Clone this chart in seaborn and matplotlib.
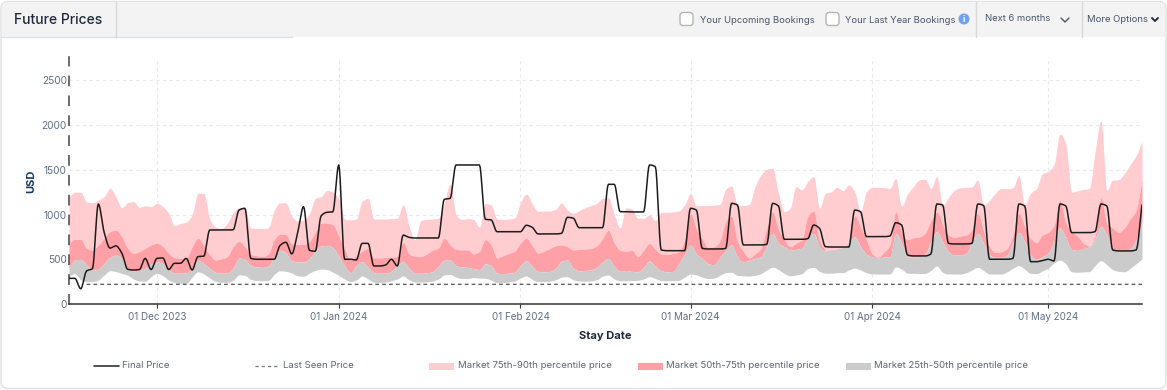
import numpy as np
import pandas as pd
import seaborn as sns
import matplotlib.dates as mdates
from matplotlib import pyplot as plt
from matplotlib.patches import FancyBboxPatch, Rectangle, Circle

# one value per stay date
start_date = "2023-11-16"
end_date = "2024-05-17"

final_price = [
    287, 287, 170, 370, 395, 1118, 800, 625, 650, 570, 388, 380, 385, 510, 385, 510, 515, 385, 455, 455,
    510, 380, 530, 535, 827, 827, 827, 827, 830, 1050, 1070, 510, 500, 500, 500, 500, 655, 690, 560, 800,
    1088, 600, 590, 985, 1025, 1030, 1554, 500, 500,
    492, 678, 678, 425, 425, 436, 500, 425, 770, 745, 738, 738, 738, 738, 738, 1170, 1180, 1554, 1554, 1554,
    1554, 1554, 947, 940, 808, 808, 808, 808, 808, 880, 857, 783, 783, 783, 783, 790, 969, 960, 853, 853,
    853, 853, 853, 1338, 1338, 1032, 1032,
    1029, 1029, 1029, 1554, 1535, 604, 596, 596, 596, 596, 1070, 1050, 622, 615, 615, 615, 622, 1125, 1107, 660,
    660, 660, 660, 667, 1125, 1095, 723, 723, 723, 723, 730, 883, 846, 641, 637, 637, 637, 637, 1050, 1032,
    753, 753,
    753, 753, 760, 909, 883, 548, 537, 537, 537, 559, 1118, 1107, 678, 671, 671, 671, 678, 1118, 1100, 500,
    500, 500, 500, 510, 1118, 1096, 473, 473, 485, 500, 481, 1118, 1096, 798, 798, 798, 798, 809, 1118, 1096,
    604, 593, 593, 593, 604, 1107,
]
p25_price = [
    310, 340, 270, 250, 250, 268, 325, 372, 362, 343, 322, 280, 257, 255, 305, 343, 315, 268, 240, 232,
    232, 300, 360, 335, 290, 255, 242, 242, 265, 325, 320, 275, 262, 260, 265, 330, 372, 365, 345, 315,
    310, 345, 375, 390, 385, 355, 320, 280, 250,
    270, 313, 280, 245, 240, 245, 260, 280, 313, 270, 245, 245, 248, 255, 280, 325, 330, 300, 285, 285,
    295, 290, 287, 265, 238, 240, 245, 255, 290, 313, 275, 250, 250, 255, 270, 300, 305, 270, 258, 255,
    258, 270, 310, 324, 280, 260, 260,
    262, 265, 280, 305, 285, 262, 260, 262, 265, 300, 335, 325, 300, 285, 290, 320, 350, 355, 320, 315,
    312, 320, 340, 380, 410, 385, 340, 315, 325, 340, 395, 410, 365, 345, 345, 350, 350, 380, 400, 380,
    350, 335, 335, 335, 335,
    415, 390, 345, 343, 340, 343, 375, 425, 354, 335, 335, 335, 350, 380, 410, 373, 335, 335, 335, 360,
    400, 429, 388, 343, 340, 370, 400, 460, 490, 450, 360, 355, 358, 362, 430, 485, 440, 385, 365, 360,
    400, 450, 505,
]
p50_price = [
    400, 490, 500, 436, 380, 390, 455, 520, 548, 510, 400, 373, 378, 400, 445, 473, 450, 385, 345, 350,
    350, 400, 490, 450, 400, 355, 345, 350, 400, 515, 500, 430, 415, 410, 425, 530, 600, 570, 485, 470,
    470, 510, 590, 650, 655, 630, 540, 430, 350,
    435, 473, 417, 350, 345, 345, 370, 430, 473, 400, 345, 345, 350, 360, 420, 490, 490, 430, 415, 410,
    395, 385, 450, 430, 345, 340, 345, 355, 430, 485, 420, 365, 360, 365, 400, 480, 490, 400, 370, 375,
    380, 410, 470, 510, 420, 365, 375,
    365, 360, 410, 480, 420, 373, 360, 365, 450, 560, 660, 560, 510, 450, 440, 520, 600, 660, 530, 470,
    490, 510, 530, 660, 790, 680, 640, 605, 610, 625, 740, 790, 640, 590, 600, 610, 630, 680, 753, 640,
    560, 525, 520, 525, 530,
    785, 680, 530, 525, 530, 560, 700, 809, 697, 585, 548, 548, 566, 697, 790, 678, 548, 522, 522, 548,
    697, 801, 697, 548, 500, 530, 570, 700, 855, 740, 610, 600, 620, 640, 730, 870, 770, 610, 600, 600,
    620, 720, 920,
]
p75_price = [
    678, 723, 723, 622, 604, 660, 734, 809, 827, 753, 622, 566, 585, 622, 660, 678, 641, 566, 520, 512,
    510, 640, 735, 650, 550, 492, 505, 530, 640, 700, 640, 555, 540, 530, 560, 720, 780, 775, 670, 665,
    665, 700, 800, 905, 905, 885, 760, 610, 490,
    540, 590, 620, 515, 515, 520, 525, 530, 690, 560, 535, 530, 560, 600, 625, 735, 660, 610, 605, 605,
    560, 590, 720, 660, 515, 540, 565, 590, 680, 735, 650, 570, 590, 620, 650, 660, 640, 605, 610, 615,
    620, 650, 730, 825, 680, 600, 590,
    600, 530, 600, 678, 610, 560, 555, 565, 585, 720, 1010, 840, 730, 630, 640, 700, 920, 980, 700, 590,
    515, 560, 620, 850, 1030, 830, 720, 640, 680, 715, 980, 1040, 710, 600, 525, 530, 590, 680, 990, 860,
    720, 560, 525, 580, 660,
    1032, 800, 720, 740, 750, 790, 930, 1032, 883, 771, 745, 760, 771, 827, 1014, 809, 641, 574, 585, 622,
    771, 1014, 865, 734, 686, 770, 800, 880, 1160, 900, 810, 760, 680, 650, 760, 1190, 900, 850, 800, 850,
    950, 1050, 1390,
]
p90_price = [
    1200, 1250, 1250, 1140, 1133, 1163, 1200, 1293, 1200, 1077, 1133, 1144, 1081, 1096, 1088, 1126, 1088, 1014, 875, 900,
    915, 1000, 1240, 1235, 950, 860, 845, 900, 1020, 1075, 1070, 850, 845, 845, 850, 1050, 1130, 1130, 980, 930,
    940, 1010, 1180, 1200, 1270, 1250, 1180, 950, 940,
    950, 1150, 1180, 950, 950, 950, 955, 960, 1110, 870, 720, 935, 945, 950, 960, 1130, 1340, 1000, 945, 955,
    945, 860, 1125, 1105, 950, 945, 950, 960, 1130, 1230, 1120, 1035, 1040, 1040, 1060, 1130, 1050, 1015, 1045, 1075,
    1100, 1125, 1180, 1190, 1000, 850, 1075,
    1060, 958, 958, 995, 932, 1025, 1025, 1030, 1040, 1107, 1237, 1096, 1100, 1100, 1107, 1114, 1282, 1319, 1107, 1100,
    1114, 1312, 1442, 1506, 1517, 1237, 1032, 1070, 1312, 1275, 1368, 1424, 1070, 1237, 1256, 1304, 1267, 1330, 1256, 1032,
    1256, 1304, 1304, 1300, 1293,
    1405, 1090, 1230, 1310, 1385, 1395, 1290, 1425, 1107, 1190, 1270, 1300, 1304, 1310, 1386, 1107, 1160, 1240, 1293, 1290,
    1300, 1435, 1110, 1240, 1290, 1455, 1480, 1560, 1900, 1790, 1250, 1265, 1280, 1290, 1700, 2050, 1270, 1385, 1390, 1460,
    1560, 1660, 1820,
]
last_seen_price = 220
last_seen_from = "2023-11-19"
y_ticks = [0, 500, 1000, 1500, 2000, 2500]

legend_labels = ["Final Price", "Last Seen Price", "Market 75th-90th percentile price",
    "Market 50th-75th percentile price", "Market 25th-50th percentile price"]

pink = '#ffccd0'
red = '#ff9fa6'
grey = '#cbcbcb'
label_col = '#5f6f84'
W, H = 1167, 390


# monotone cubic drawing curve through the daily values, like the original chart's line mode
def curve(values, steps=8):
    y = np.asarray(values, dtype=float)
    s = np.diff(y)
    m = np.zeros_like(y)
    m[0], m[-1] = s[0], s[-1]
    for i in range(1, len(y) - 1):
        if s[i - 1] * s[i] > 0:
            m[i] = 2 * s[i - 1] * s[i] / (s[i - 1] + s[i])
    t = np.arange((len(y) - 1) * steps + 1) / steps
    i = np.minimum(t.astype(int), len(y) - 2)
    u = t - i
    out = (2 * u**3 - 3 * u**2 + 1) * y[i] + (u**3 - 2 * u**2 + u) * m[i] \
        + (-2 * u**3 + 3 * u**2) * y[i + 1] + (u**3 - u**2) * m[i + 1]
    return t, out


sns.set_style("white")
plt.rcParams['font.family'] = ['Inter', 'DejaVu Sans']

dates = pd.date_range(start_date, end_date, freq="D")
t, final_curve = curve(final_price)
when = dates[0] + pd.to_timedelta(t, unit="D")
df = pd.DataFrame({"date": when, "final": final_curve, "p25": curve(p25_price)[1],
    "p50": curve(p50_price)[1], "p75": curve(p75_price)[1], "p90": curve(p90_price)[1]})
seen = df[df["date"] >= last_seen_from].assign(seen=last_seen_price)

fig = plt.figure(figsize=(W / 100, H / 100), dpi=100, facecolor='white')

# page furniture, in pixel coordinates
bg = fig.add_axes([0, 0, 1, 1], zorder=0)
bg.set_xlim(0, W)
bg.set_ylim(H, 0)
bg.axis("off")
bg.add_patch(FancyBboxPatch((1, 1.5), W - 2, H - 3, boxstyle="round,pad=0,rounding_size=7",
    fc='white', ec='#e2e2e2', lw=1))
bg.add_patch(FancyBboxPatch((2, 2), W - 4, 35, boxstyle="round,pad=0,rounding_size=6",
    fc='#f3f3f3', ec='none'))
bg.add_patch(Rectangle((2, 20), W - 4, 17, fc='#f3f3f3', ec='none'))
bg.plot([1, 292], [36.5, 36.5], color='#dfe3e8', lw=1)
for sep in [115.5, 975.5, 1081.5]:
    bg.plot([sep, sep], [2, 37], color='#d9d9d9', lw=1)
bg.text(14, 19.5, "Future Prices", fontsize=10, fontweight=500, color='#1f2a3c', va='center')
for box_x in [680, 826]:
    bg.add_patch(FancyBboxPatch((box_x, 12.5), 13, 13, boxstyle="round,pad=0,rounding_size=3",
        fc='white', ec='#b5b5b5', lw=1))
bg.text(700, 20.5, "Your Upcoming Bookings", fontsize=6.8, color='#46566c', va='center')
bg.text(845, 20.5, "Your Last Year Bookings", fontsize=6.8, color='#46566c', va='center')
bg.add_patch(Circle((964, 19), 5.5, fc='#6ea3f2', ec='none'))
bg.text(964, 19, "i", fontsize=6, color='white', ha='center', va='center', fontweight='bold')
bg.text(985, 18.5, "Next 6 months", fontsize=6.8, color='#46566c', va='center')
bg.text(1087, 19.5, "More Options", fontsize=6.8, color='#46566c', va='center')
bg.plot([1061, 1065, 1069], [18, 22, 18], color='#46566c', lw=1)
bg.plot([1152, 1155, 1158], [18, 21, 18], color='#1f2a3c', lw=1.4)

ax = fig.add_axes([69 / W, (H - 304) / H, (1142 - 69) / W, (304 - 57) / H], zorder=1)
ax.patch.set_alpha(0)

ax.fill_between(df["date"], df["p75"], df["p90"], color=pink, lw=0, zorder=2)
ax.fill_between(df["date"], df["p50"], df["p75"], color=red, lw=0, zorder=2)
ax.fill_between(df["date"], df["p25"], df["p50"], color=grey, lw=0, zorder=2)
sns.lineplot(data=seen, x="date", y="seen", ax=ax, color='#555555', lw=0.9,
    linestyle=(0, (3, 2.5)), zorder=3, estimator=None)
sns.lineplot(data=df, x="date", y="final", ax=ax, color='#1c1c1c', lw=1.1, zorder=4, estimator=None)

ax.set_xlim(dates[0], dates[-1])
ax.set_ylim(0, 2761)
ax.set_yticks(y_ticks)
ax.xaxis.set_major_locator(mdates.MonthLocator())
ax.xaxis.set_major_formatter(mdates.DateFormatter("%d %b %Y"))
ax.grid(True, color='#e9e9e9', lw=0.8, linestyle=(0, (3, 3)), zorder=1)
ax.set_axisbelow(True)
ax.set_xlabel("Stay Date", fontsize=8, fontweight='bold', color='#1f2a3c')
ax.xaxis.set_label_coords((605 - 69) / (1142 - 69), (304 - 336) / (304 - 57), transform=ax.transAxes)
ax.xaxis.label.set_va('center')
ax.set_ylabel("USD", fontsize=8, fontweight='bold', color='#163a63')
ax.yaxis.set_label_coords((31 - 69) / (1142 - 69), (304 - 181) / (304 - 57), transform=ax.transAxes)
ax.yaxis.label.set_va('center')
ax.tick_params(axis='x', length=3, width=0.8, color='#333333', pad=2.5, labelsize=7.1, labelcolor=label_col, bottom=True)
ax.tick_params(axis='y', length=0, pad=1.5, labelsize=7.3, labelcolor=label_col)

sns.despine(ax=ax, top=True, right=True)
ax.spines['bottom'].set_color('#333333')
ax.spines['bottom'].set_linewidth(1.1)
ax.spines['left'].set_color('#444444')
ax.spines['left'].set_linewidth(1.1)
ax.spines['left'].set_linestyle((0, (6, 7)))

# hand made legend to keep the uneven spacing
leg_y = 366
bg.plot([94, 119], [leg_y, leg_y], color='#333333', lw=1.2)
bg.plot([254.5, 278], [leg_y, leg_y], color='#777777', lw=0.9, linestyle=(0, (2.5, 2.5)))
for x0, col in [(429, pink), (638, red), (846, grey)]:
    bg.add_patch(Rectangle((x0, leg_y - 3.5), 24.5, 7, fc=col, ec='none'))
for x0, lab in zip([122, 283, 458, 666, 874], legend_labels):
    bg.text(x0, leg_y, lab, fontsize=6.9, color='#5a6472', va='center')

fig.savefig("out.png", dpi=100)
